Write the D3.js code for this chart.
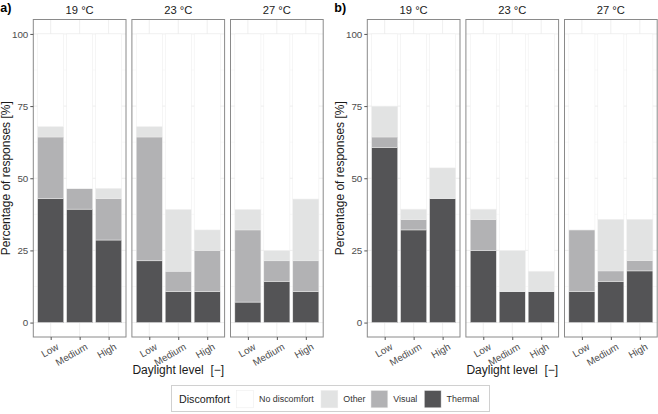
<!DOCTYPE html>
<html><head><meta charset="utf-8">
<script src="https://cdn.jsdelivr.net/npm/d3@7"></script>
<style>
body{margin:0;background:#fff;}
svg{display:block;font-family:"Liberation Sans",Arial,Helvetica,sans-serif;}
</style></head>
<body>
<svg id="chart" width="658" height="414"></svg>
<script>
const facets = ["19 °C", "23 °C", "27 °C"];
const levels = ["Low", "Medium", "High"];
const categories = ["No discomfort", "Other", "Visual", "Thermal"];
const stackOrder = ["Thermal", "Visual", "Other", "No discomfort"];
const colors = ["#ffffff", "#e2e3e3", "#b2b2b4", "#545456"];
const yTicks = [0, 25, 50, 75, 100];

// panel a) values, [facet][level], percent
const thermalA = [[42.9, 39.3, 28.6], [21.4, 10.7, 10.7], [7.1, 14.3, 10.7]];
const visualA  = [[21.4, 7.1, 14.3], [42.9, 7.1, 14.3], [25.0, 7.1, 10.7]];
const otherA   = [[3.6, 0, 3.6], [3.6, 21.4, 7.1], [7.1, 3.6, 21.4]];
// panel b) values
const thermalB = [[60.7, 32.1, 42.9], [25.0, 10.7, 10.7], [10.7, 14.3, 17.9]];
const visualB  = [[3.6, 3.6, 0], [10.7, 0, 0], [21.4, 3.6, 3.6]];
const otherB   = [[10.7, 3.6, 10.7], [3.6, 14.3, 7.1], [0, 17.9, 14.3]];

const svg = d3.select("#chart");
const color = d3.scaleOrdinal().domain(categories).range(colors);

const panelTop = 19.5, panelBottom = 337, panelW = 92.7, pitch = 98.6;

function buildRows(th, vi, ot, f) {
  return levels.map((lv, i) => {
    const t = th[f][i], v = vi[f][i], o = ot[f][i];
    return {level: lv, "Thermal": t, "Visual": v, "Other": o,
            "No discomfort": Math.max(0, 100 - t - v - o)};
  });
}

function drawPart(label, left0, th, vi, ot) {
  const g = svg.append("g");
  const y = d3.scaleLinear().domain([-5, 105]).range([panelBottom, panelTop]);
  facets.forEach((fc, f) => {
    const left = left0 + f * pitch;
    const x = d3.scalePoint().domain(levels).range([left, left + panelW]).padding(0.6);
    const step = x.step();
    const bw = step * 0.9;
    const pg = g.append("g");
    const minor = [12.5, 37.5, 62.5, 87.5];
    pg.selectAll(".gmin").data(minor).join("line")
      .attr("x1", left).attr("x2", left + panelW)
      .attr("y1", d => y(d)).attr("y2", d => y(d))
      .attr("stroke", "#f2f2f2").attr("stroke-width", 0.5);
    pg.selectAll(".gmaj").data(yTicks).join("line")
      .attr("x1", left).attr("x2", left + panelW)
      .attr("y1", d => y(d)).attr("y2", d => y(d))
      .attr("stroke", "#ebebeb").attr("stroke-width", 0.8);
    pg.selectAll(".gv").data(levels).join("line")
      .attr("x1", d => x(d)).attr("x2", d => x(d))
      .attr("y1", panelTop).attr("y2", panelBottom)
      .attr("stroke", "#ebebeb").attr("stroke-width", 0.8);
    const rows = buildRows(th, vi, ot, f);
    const series = d3.stack().keys(stackOrder)(rows);
    series.forEach(s => {
      pg.append("g").selectAll("rect").data(s).join("rect")
        .attr("x", d => x(d.data.level) - bw / 2)
        .attr("width", bw)
        .attr("y", d => y(d[1]))
        .attr("height", d => Math.max(0, y(d[0]) - y(d[1])))
        .attr("fill", color(s.key))
        .attr("stroke", "#ececec").attr("stroke-width", 0.5);
    });
    pg.append("rect").attr("x", left).attr("y", panelTop)
      .attr("width", panelW).attr("height", panelBottom - panelTop)
      .attr("fill", "none").attr("stroke", "#8a8a8a").attr("stroke-width", 1);
    pg.append("text").attr("x", left + panelW / 2).attr("y", 14)
      .attr("text-anchor", "middle").attr("font-size", 11.2).attr("fill", "#1a1a1a")
      .text(fc);
    const xa = pg.append("g").attr("transform", `translate(0,${panelBottom})`)
      .call(d3.axisBottom(x).tickSize(3).tickPadding(2));
    xa.select(".domain").remove();
    xa.selectAll(".tick line").attr("stroke", "#555");
    xa.selectAll(".tick text")
      .attr("font-size", 9.8).attr("fill", "#4d4d4d")
      .attr("font-family", "Liberation Sans, Arial, sans-serif")
      .attr("text-anchor", "end").attr("dy", null).attr("y", null)
      .attr("transform", "translate(4.5,5.5) rotate(-30)")
      .attr("dominant-baseline", "hanging");
    if (f === 0) {
      const ya = pg.append("g").attr("transform", `translate(${left},0)`)
        .call(d3.axisLeft(y).tickValues(yTicks).tickSize(3).tickPadding(2));
      ya.select(".domain").remove();
      ya.selectAll(".tick line").attr("stroke", "#555");
      ya.selectAll(".tick text").attr("font-size", 9.8).attr("fill", "#4d4d4d")
        .attr("font-family", "Liberation Sans, Arial, sans-serif");
    }
  });
  const midX = left0 + (2 * pitch + panelW) / 2;
  const midY = (panelTop + panelBottom) / 2;
  g.append("text").attr("transform", `translate(${left0 - 23},${midY}) rotate(-90)`)
    .attr("text-anchor", "middle").attr("font-size", 12).attr("fill", "#1a1a1a")
    .text("Percentage of responses [%]");
  g.append("text").attr("x", midX).attr("y", 374)
    .attr("text-anchor", "middle").attr("font-size", 12).attr("fill", "#1a1a1a")
    .attr("xml:space", "preserve").style("white-space", "pre")
    .text("Daylight level  [−]");
  g.append("text").attr("x", left0 - 33).attr("y", 12)
    .attr("font-size", 12.5).attr("font-weight", "bold").attr("fill", "#000")
    .text(label);
}

drawPart("a)", 33.3, thermalA, visualA, otherA);
drawPart("b)", 367.3, thermalB, visualB, otherB);

const lg = svg.append("g");
lg.append("rect").attr("x", 171.5).attr("y", 385.5).attr("width", 318).attr("height", 26)
  .attr("fill", "#fff").attr("stroke", "#d0d0d0").attr("stroke-width", 1);
lg.append("text").attr("x", 179).attr("y", 402.5).attr("font-size", 10.7)
  .attr("fill", "#1a1a1a").text("Discomfort");
const keyX = [236.7, 321, 371, 424.3];
categories.forEach((c, i) => {
  lg.append("rect").attr("x", keyX[i]).attr("y", 390.5).attr("width", 16.8).attr("height", 17.3)
    .attr("fill", color(c)).attr("stroke", "#ececec").attr("stroke-width", 0.5);
  lg.append("text").attr("x", keyX[i] + 22.3).attr("y", 402.3).attr("font-size", 8.9)
    .attr("fill", "#333").text(c);
});
</script>
</body></html>
